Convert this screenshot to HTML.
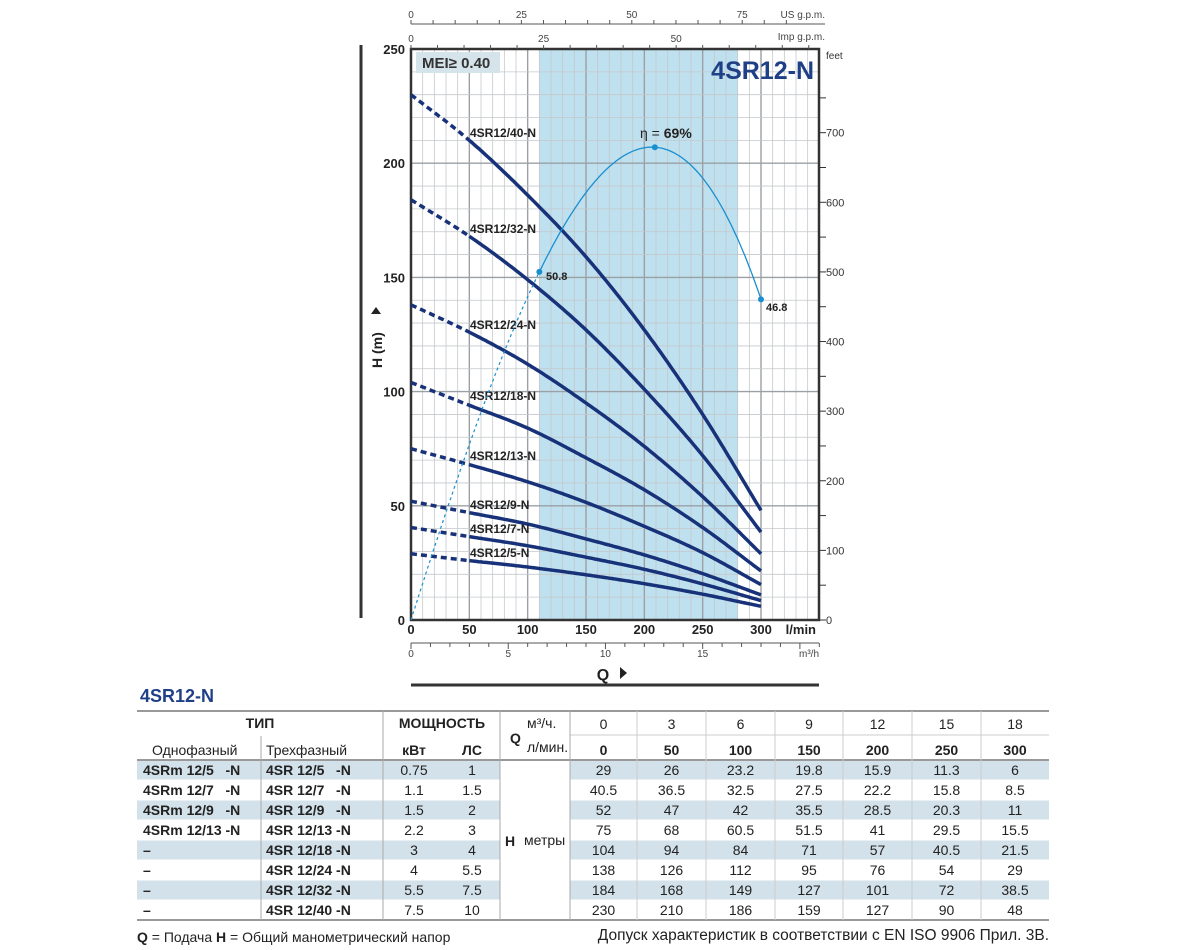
<!DOCTYPE html>
<html><head><meta charset="utf-8">
<style>
html,body{margin:0;padding:0;background:#fff;}
svg{display:block;font-family:"Liberation Sans","DejaVu Sans",sans-serif;}
</style></head>
<body>
<svg id="s" width="1200" height="950" viewBox="0 0 1200 950" xmlns="http://www.w3.org/2000/svg"></svg>
<script>
const S=document.getElementById('s');
let h='';
const X=q=>411+q*350/300, Y=m=>620-m*571/250;
h+=`<rect x="${X(110)}" y="49" width="${X(280)-X(110)}" height="571" fill="#bfe0ef"/>`;
for(let q=10;q<=350;q+=10){const x=X(q);const major=q%50==0;
 h+=`<line x1="${x}" y1="49" x2="${x}" y2="620" stroke="${major?'#9aa0a4':'#c4c8cb'}" stroke-width="${major?1.4:0.8}"/>`;}
for(let m=10;m<250;m+=10){const y=Y(m);const major=m%50==0;
 h+=`<line x1="411" y1="${y}" x2="819" y2="${y}" stroke="${major?'#9aa0a4':'#c4c8cb'}" stroke-width="${major?1.4:0.8}"/>`;}
h+=`<rect x="411" y="49" width="408" height="571" fill="none" stroke="#333" stroke-width="2.5"/>`;
for(let m=0;m<=250;m+=50){h+=`<text x="405" y="${Y(m)+5}" text-anchor="end" font-size="13" font-weight="bold" fill="#222">${m}</text>`;}
for(let q=0;q<=300;q+=50){h+=`<text x="${X(q)}" y="634" text-anchor="middle" font-size="13" font-weight="bold" fill="#222">${q}</text>`;}
h+=`<text x="816" y="634" text-anchor="end" font-size="13" font-weight="bold" fill="#222">l/min</text>`;
for(let f=0;f<=750;f+=50){const y=Y(f/3.2808);h+=`<line x1="819" y1="${y}" x2="826" y2="${y}" stroke="#333" stroke-width="1"/>`;
 if(f%100==0)h+=`<text x="826" y="${y+4}" font-size="11" fill="#333">${f}</text>`;}
h+=`<text x="826" y="59" font-size="10" fill="#333">feet</text>`;
h+=`<line x1="411" y1="24" x2="825" y2="24" stroke="#555" stroke-width="1"/>`;
for(let g=0;g<=85;g+=5){const x=X(g*3.785);if(x>826)break;h+=`<line x1="${x}" y1="20" x2="${x}" y2="24" stroke="#555"/>`;}
[0,25,50,75].forEach(g=>h+=`<text x="${X(g*3.785)}" y="18" text-anchor="middle" font-size="10" fill="#444">${g}</text>`);
h+=`<text x="825" y="18" text-anchor="end" font-size="10" fill="#444">US g.p.m.</text>`;
[0,25,50].forEach(g=>h+=`<text x="${X(g*4.546)}" y="42" text-anchor="middle" font-size="10" fill="#444">${g}</text>`);
for(let g=0;g<=75;g+=5){const x=X(g*4.546);if(x>819)break;h+=`<line x1="${x}" y1="45" x2="${x}" y2="49" stroke="#555"/>`;}
h+=`<text x="825" y="40" text-anchor="end" font-size="10" fill="#444">Imp g.p.m.</text>`;
h+=`<line x1="411" y1="643" x2="819" y2="643" stroke="#555" stroke-width="1"/>`;
for(let k=0;k<=21;k++){const x=X(k*1000/60);if(x>820)break;h+=`<line x1="${x}" y1="643" x2="${x}" y2="${k%5==0?649:647}" stroke="#555"/>`;}
[0,5,10,15].forEach(k=>h+=`<text x="${X(k*1000/60)}" y="657" text-anchor="middle" font-size="10" fill="#444">${k}</text>`);
h+=`<text x="819" y="657" text-anchor="end" font-size="10" fill="#444">m³/h</text>`;
h+=`<text x="603" y="680" text-anchor="middle" font-size="16" font-weight="bold" fill="#222">Q</text><polygon points="620,667 620,679 627,673" fill="#222"/>`;
h+=`<line x1="411" y1="685" x2="819" y2="685" stroke="#333" stroke-width="3"/>`;
h+=`<line x1="361" y1="45" x2="361" y2="618" stroke="#333" stroke-width="3"/>`;
h+=`<text transform="translate(382,368) rotate(-90)" font-size="14" font-weight="bold" fill="#222">H  (m)</text><polygon points="371,314 381,314 376,307" fill="#222"/>`;
h+=`<rect x="416" y="52" width="84" height="21" fill="#d5e3ea"/><text x="422" y="68" font-size="15" font-weight="bold" fill="#333">MEI≥ 0.40</text>`;
h+=`<text x="814" y="79" text-anchor="end" font-size="25" font-weight="bold" fill="#1f3f86">4SR12-N</text>`;
const Q=[0,50,100,150,200,250,300];
const D=[[29,26,23.2,19.8,15.9,11.3,6],[40.5,36.5,32.5,27.5,22.2,15.8,8.5],[52,47,42,35.5,28.5,20.3,11],[75,68,60.5,51.5,41,29.5,15.5],[104,94,84,71,57,40.5,21.5],[138,126,112,95,76,54,29],[184,168,149,127,101,72,38.5],[230,210,186,159,127,90,48]];
const names=['5','7','9','13','18','24','32','40'];
function interp(arr,q){
 let i=Math.min(5,Math.floor(q/50));let t=(q-i*50)/50;
 const p0=arr[Math.max(0,i-1)],p1=arr[i],p2=arr[i+1],p3=arr[Math.min(6,i+2)];
 let a0=i==0?2*p1-p2:p0,a3=i==5?2*p2-p1:p3;
 return 0.5*((2*p1)+(-a0+p2)*t+(2*a0-5*p1+4*p2-a3)*t*t+(-a0+3*p1-3*p2+a3)*t*t*t);}
D.forEach((arr,k)=>{
 let d1='',d2='';
 for(let q=0;q<=50;q+=2)d1+=(q?'L':'M')+X(q).toFixed(1)+','+Y(interp(arr,q)).toFixed(1);
 for(let q=50;q<=300;q+=2)d2+=(q>50?'L':'M')+X(q).toFixed(1)+','+Y(interp(arr,q)).toFixed(1);
 h+=`<path d="${d1}" fill="none" stroke="#18327a" stroke-width="3.5" stroke-dasharray="6,4"/>`;
 h+=`<path d="${d2}" fill="none" stroke="#18327a" stroke-width="3.5"/>`;
});
const lab={7:133,6:229,5:325,4:396,3:456,2:505,1:529,0:553};
for(const k in lab)h+=`<text x="470" y="${lab[k]+4}" font-size="12" font-weight="bold" fill="#222">4SR12/${names[k]}-N</text>`;
const ef=q=>1.6125*q-0.0010505*q*q-9.215e-6*q*q*q;
let e1='',e2='';
for(let q=0;q<=110;q+=2)e1+=(q?'L':'M')+X(q).toFixed(1)+','+Y(ef(q)).toFixed(1);
for(let q=110;q<=300;q+=2)e2+=(q>110?'L':'M')+X(q).toFixed(1)+','+Y(ef(q)).toFixed(1);
h+=`<path d="${e1}" fill="none" stroke="#1a8fd0" stroke-width="1.2" stroke-dasharray="3,3"/><path d="${e2}" fill="none" stroke="#1a8fd0" stroke-width="1.3"/>`;
[[110,ef(110)],[209,ef(209)],[300,ef(300)]].forEach(p=>h+=`<circle cx="${X(p[0])}" cy="${Y(p[1])}" r="3" fill="#1a8fd0"/>`);
h+=`<text x="546" y="280" font-size="11" font-weight="bold" fill="#222">50.8</text>`;
h+=`<text x="766" y="311" font-size="11" font-weight="bold" fill="#222">46.8</text>`;
h+=`<text x="640" y="138" font-size="14" fill="#222">η = <tspan font-weight="bold">69%</tspan></text>`;
h+=`<text x="140" y="702" font-size="18" font-weight="bold" fill="#1f3f86">4SR12-N</text>`;
const cx=[137,261,383,445,500,570,637,706,775,843,912,981,1049];
for(let r=0;r<8;r+=2){const y=760+r*20;
 h+=`<rect x="137" y="${y}" width="363" height="20" fill="#d3e2ea"/><rect x="570" y="${y}" width="479" height="20" fill="#d3e2ea"/>`;}
h+=`<line x1="137" y1="711" x2="1049" y2="711" stroke="#999" stroke-width="2"/>`;
h+=`<line x1="137" y1="760" x2="1049" y2="760" stroke="#999" stroke-width="2"/>`;
h+=`<line x1="137" y1="920" x2="1049" y2="920" stroke="#999" stroke-width="2"/>`;
h+=`<line x1="570" y1="735" x2="1049" y2="735" stroke="#ccc"/>`;
for(let r=1;r<8;r++){const y=760+r*20;h+=`<line x1="137" y1="${y}" x2="500" y2="${y}" stroke="#fff"/><line x1="570" y1="${y}" x2="1049" y2="${y}" stroke="#fff"/>`;}
[[261,736,920],[383,711,920],[500,711,920],[570,711,920]].forEach(v=>h+=`<line x1="${v[0]}" y1="${v[1]}" x2="${v[0]}" y2="${v[2]}" stroke="#aaa"/>`);
for(let i=6;i<12;i++)h+=`<line x1="${cx[i]}" y1="711" x2="${cx[i]}" y2="920" stroke="#ccc"/>`;
const T=(x,y,t,o='')=>h+=`<text x="${x}" y="${y}" font-size="14" fill="#222" ${o}>${t}</text>`;
T(260,728,'ТИП','text-anchor="middle" font-weight="bold"');
T(442,728,'МОЩНОСТЬ','text-anchor="middle" font-weight="bold"');
T(152,755,'Однофазный','font-size="15"');T(266,755,'Трехфазный','font-size="15"');
T(414,755,'кВт','text-anchor="middle" font-weight="bold"');T(472,755,'ЛС','text-anchor="middle" font-weight="bold"');
T(510,743,'Q','font-weight="bold" font-size="15"');T(527,728,'м³/ч.','font-size="12"');T(527,752,'л/мин.','font-size="12"');
const m3=[0,3,6,9,12,15,18];
for(let i=0;i<7;i++){const c=(cx[i+5]+cx[i+6])/2;T(c,729,m3[i],'text-anchor="middle"');T(c,755,Q[i],'text-anchor="middle" font-weight="bold"');
 D.forEach((a,r)=>T(c,775+r*20,a[i],'text-anchor="middle"'));}
const one=['4SRm 12/5&#160;&#160;&#160;-N','4SRm 12/7&#160;&#160;&#160;-N','4SRm 12/9&#160;&#160;&#160;-N','4SRm 12/13 -N','–','–','–','–'];
const three=['4SR 12/5&#160;&#160;&#160;-N','4SR 12/7&#160;&#160;&#160;-N','4SR 12/9&#160;&#160;&#160;-N','4SR 12/13 -N','4SR 12/18 -N','4SR 12/24 -N','4SR 12/32 -N','4SR 12/40 -N'];
const kw=['0.75','1.1','1.5','2.2','3','4','5.5','7.5'],hp=['1','1.5','2','3','4','5.5','7.5','10'];
for(let r=0;r<8;r++){const y=775+r*20;T(143,y,one[r],'font-weight="bold" font-size="13.5"');T(266,y,three[r],'font-weight="bold" font-size="13.5"');
 T(414,y,kw[r],'text-anchor="middle"');T(472,y,hp[r],'text-anchor="middle"');}
T(505,846,'H','font-weight="bold" font-size="16"');T(524,845,'метры');
h+=`<text x="137" y="942" font-size="14" fill="#222"><tspan font-weight="bold">Q</tspan> = Подача   <tspan font-weight="bold">H</tspan> = Общий манометрический напор</text>`;
h+=`<text x="1049" y="940" text-anchor="end" font-size="15.5" fill="#222">Допуск характеристик в соответствии с EN ISO 9906 Прил. 3В.</text>`;
S.innerHTML=h;
</script>
</body></html>
